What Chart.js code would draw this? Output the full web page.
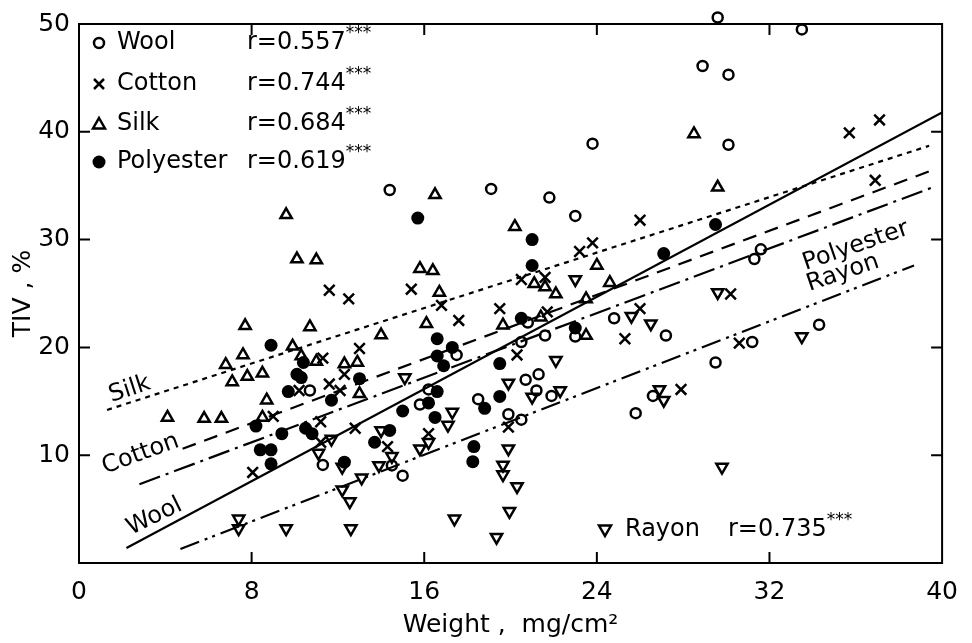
<!DOCTYPE html>
<html>
<head>
<meta charset="utf-8">
<script src="https://cdn.jsdelivr.net/npm/chart.js@4.4.1/dist/chart.umd.min.js"></script>
<style>
  html, body { margin: 0; padding: 0; background: #fff; }
  #wrap { width: 972px; height: 643px; }
</style>
</head>
<body>
<div id="wrap"><canvas id="c" width="972" height="643"></canvas></div>
<script>
// axis ticks
const xTicks = [0, 8, 16, 24, 32, 40];
const yTicks = [0, 10, 20, 30, 40, 50];

// fibres and their correlation coefficients
const fibres = ["Wool", "Cotton", "Silk", "Polyester", "Rayon"];
const rValues = ["0.557", "0.744", "0.684", "0.619", "0.735"];

// measured points [weight, TIV]
const wool = [
  [14.4, 34.6], [10.7, 16.0], [11.3, 9.1], [14.5, 9.05],
  [19.1, 34.7], [21.8, 33.9], [23.0, 32.2], [17.5, 19.3], [20.8, 22.3], [20.5, 20.5],
  [21.6, 21.1], [23.0, 21.0], [24.8, 22.7], [27.2, 21.1], [31.6, 29.1], [31.3, 28.2],
  [31.2, 20.5], [29.5, 18.6], [16.2, 16.1], [15.8, 14.7], [20.7, 17.0], [21.3, 17.5],
  [21.2, 16.0], [21.9, 15.5], [18.5, 15.2], [19.9, 13.8], [20.5, 13.3], [25.8, 13.9],
  [26.6, 15.5], [15.0, 8.1],
  [29.6, 50.6], [33.5, 49.5], [28.9, 46.1], [30.1, 45.3], [23.8, 38.9], [30.1, 38.8], [34.3, 22.1]
];
const cotton = [
  [11.6, 25.3], [12.5, 24.5], [11.3, 19.0], [13.0, 19.9], [12.3, 17.5], [11.6, 16.6],
  [12.1, 16.0], [10.2, 16.0], [9.0, 13.6], [11.2, 13.1], [11.2, 11.2], [12.8, 12.5],
  [8.05, 8.4], [14.3, 10.8],
  [15.4, 25.4], [16.8, 23.9], [17.6, 22.5], [19.5, 23.6], [20.5, 26.3], [21.6, 26.5],
  [21.7, 23.3], [23.2, 28.9], [23.8, 29.7], [26.0, 31.8], [26.0, 23.6], [25.3, 20.8],
  [20.3, 19.3], [30.2, 24.95], [30.6, 20.4], [27.9, 16.1], [16.2, 12.0], [19.9, 12.6],
  [35.7, 39.9], [37.1, 41.1], [36.9, 35.5]
];
const silk = [
  [9.6, 32.3], [10.1, 28.2], [11.0, 28.1], [14.0, 21.15], [7.7, 22.0], [10.7, 21.9],
  [9.9, 20.1], [7.6, 19.3], [10.3, 19.2], [11.0, 18.7], [6.8, 18.4], [12.3, 18.45],
  [12.9, 18.6], [7.8, 17.3], [8.5, 17.6], [7.1, 16.8], [8.7, 15.1], [13.0, 15.7],
  [8.5, 13.5], [4.1, 13.5], [5.8, 13.4], [6.6, 13.4],
  [16.5, 34.15], [20.2, 31.2], [29.6, 34.85], [15.8, 27.3], [16.4, 27.1], [16.7, 25.1],
  [16.1, 22.2], [19.65, 22.06], [24.0, 27.6], [24.6, 26.0], [21.1, 25.9], [21.6, 25.6],
  [22.1, 24.95], [23.5, 24.5], [21.4, 22.8], [23.5, 21.1],
  [28.5, 39.8]
];
const polyester = [
  [8.9, 20.2], [10.4, 18.6], [10.1, 17.5], [10.3, 17.2], [9.7, 15.9], [11.7, 15.1],
  [13.0, 17.1], [8.2, 12.7], [9.4, 12.0], [10.5, 12.5], [10.8, 12.0], [8.4, 10.5],
  [8.9, 10.5], [8.9, 9.2], [12.3, 9.35], [13.7, 11.2], [14.4, 12.3],
  [15.7, 32.0], [21.0, 30.0], [21.0, 27.6], [29.5, 31.4], [27.1, 28.7], [16.6, 20.8],
  [17.3, 20.0], [16.6, 19.2], [16.9, 18.3], [20.5, 22.7], [23.0, 21.8], [19.5, 18.5],
  [16.6, 15.9], [16.2, 14.85], [16.5, 13.5], [15.0, 14.1], [19.5, 15.45], [18.8, 14.35],
  [18.3, 10.8], [18.25, 9.4]
];
const rayon = [
  [11.7, 11.5], [11.1, 10.2], [12.2, 8.9], [14.0, 12.3], [13.9, 9.05], [14.5, 9.9],
  [13.1, 7.9], [12.2, 6.8], [12.55, 5.7], [7.4, 4.1], [7.4, 3.2], [9.6, 3.2], [12.6, 3.2],
  [15.1, 17.2], [22.1, 18.8], [23.0, 26.3], [25.6, 22.9], [26.5, 22.2], [29.6, 25.1],
  [33.5, 21.0], [19.9, 16.7], [21.0, 15.4], [22.3, 16.0], [17.3, 14.0], [17.1, 12.8],
  [15.8, 10.6], [16.2, 11.2], [19.9, 10.6], [19.65, 9.1], [19.65, 8.2], [20.3, 7.1],
  [19.95, 4.8], [17.4, 4.1], [19.35, 2.4], [26.9, 16.1], [27.1, 15.1], [29.8, 8.9]
];

// regression lines, end points [weight, TIV]
const woolFit = [[2.2, 1.4], [40, 41.8]];
const cottonFit = [[4.8, 10.6], [39.5, 36.4]];
const silkFit = [[1.3, 14.2], [39.4, 38.7]];
const polyesterFit = [[2.8, 7.3], [39.5, 34.8]];
const rayonFit = [[4.7, 1.3], [38.7, 27.6]];

// where the line names sit (weight, TIV, angle)
const lineNamePlaces = [
  ["Silk", 2.35, 16.1, -18],
  ["Cotton", 2.85, 10.1, -20],
  ["Wool", 3.5, 4.3, -26],
  ["Polyester", 36.0, 29.4, -19],
  ["Rayon", 35.4, 26.9, -19]
];

const toXY = arr => arr.map(p => ({ x: p[0], y: p[1] }));
const FONT = "DejaVu Sans";

function marker(ctx, kind, x, y) {
  ctx.save();
  ctx.lineWidth = 2.5;
  ctx.strokeStyle = "#000";
  ctx.fillStyle = "#000";
  ctx.beginPath();
  if (kind === "circle") {
    ctx.arc(x, y, 5, 0, Math.PI * 2);
    ctx.stroke();
  } else if (kind === "dot") {
    ctx.arc(x, y, 6.5, 0, Math.PI * 2);
    ctx.fill();
  } else if (kind === "cross") {
    ctx.moveTo(x - 5, y - 5); ctx.lineTo(x + 5, y + 5);
    ctx.moveTo(x + 5, y - 5); ctx.lineTo(x - 5, y + 5);
    ctx.stroke();
  } else if (kind === "up") {
    ctx.moveTo(x, y - 6); ctx.lineTo(x + 6, y + 4.5); ctx.lineTo(x - 6, y + 4.5); ctx.closePath();
    ctx.stroke();
  } else if (kind === "down") {
    ctx.moveTo(x, y + 6); ctx.lineTo(x + 6, y - 4.5); ctx.lineTo(x - 6, y - 4.5); ctx.closePath();
    ctx.stroke();
  }
  ctx.restore();
}

function legendRow(ctx, kind, name, r, sx, nx, rx, y) {
  marker(ctx, kind, sx, y);
  ctx.font = "24px " + FONT;
  ctx.textAlign = "left";
  ctx.textBaseline = "middle";
  ctx.fillStyle = "#000";
  ctx.fillText(name, nx, y);
  const txt = "r=" + r;
  ctx.fillText(txt, rx, y);
  const w = ctx.measureText(txt).width;
  ctx.font = "17px " + FONT;
  ctx.fillText("***", rx + w, y - 9);
}

const decor = {
  id: "decor",
  afterDraw(chart) {
    const ctx = chart.ctx;
    const a = chart.chartArea;
    const xs = chart.scales.x, ys = chart.scales.y;
    ctx.save();
    ctx.strokeStyle = "#000";
    ctx.lineWidth = 2;
    ctx.strokeRect(a.left, a.top, a.right - a.left, a.bottom - a.top);
    // inward tick marks on all four sides
    ctx.beginPath();
    xTicks.slice(1, -1).forEach(v => {
      const px = xs.getPixelForValue(v);
      ctx.moveTo(px, a.bottom); ctx.lineTo(px, a.bottom - 11);
      ctx.moveTo(px, a.top); ctx.lineTo(px, a.top + 11);
    });
    yTicks.slice(1, -1).forEach(v => {
      const py = ys.getPixelForValue(v);
      ctx.moveTo(a.left, py); ctx.lineTo(a.left + 11, py);
      ctx.moveTo(a.right, py); ctx.lineTo(a.right - 11, py);
    });
    ctx.stroke();

    // names along the regression lines
    ctx.font = "24px " + FONT;
    ctx.fillStyle = "#000";
    ctx.textAlign = "center";
    ctx.textBaseline = "middle";
    lineNamePlaces.forEach(([t, wx, wy, ang]) => {
      ctx.save();
      ctx.translate(xs.getPixelForValue(wx), ys.getPixelForValue(wy));
      ctx.rotate(ang * Math.PI / 180);
      ctx.fillText(t, 0, 0);
      ctx.restore();
    });

    // key
    const kinds = ["circle", "cross", "up", "dot"];
    const rowsY = [43, 84, 124, 162];
    for (let i = 0; i < 4; i++) {
      legendRow(ctx, kinds[i], fibres[i], rValues[i], 99, 117, 247, rowsY[i]);
    }
    legendRow(ctx, "down", fibres[4], rValues[4], 605, 625, 728, 530);
    ctx.restore();
  }
};

const fitStyle = (pts, dash) => ({
  type: "line",
  data: toXY(pts),
  borderColor: "#000",
  borderWidth: 2.2,
  borderDash: dash,
  pointRadius: 0,
  fill: false,
  tension: 0
});

new Chart(document.getElementById("c"), {
  type: "scatter",
  data: {
    datasets: [
      { label: fibres[0], data: toXY(wool), pointStyle: "circle", pointRadius: 5,
        borderColor: "#000", backgroundColor: "rgba(0,0,0,0)", borderWidth: 2.5, clip: false },
      { label: fibres[1], data: toXY(cotton), pointStyle: "crossRot", pointRadius: 7.5,
        borderColor: "#000", borderWidth: 2.5 },
      { label: fibres[2], data: toXY(silk), pointStyle: "triangle", pointRadius: 6.5,
        borderColor: "#000", backgroundColor: "rgba(0,0,0,0)", borderWidth: 2.5 },
      { label: fibres[3], data: toXY(polyester), pointStyle: "circle", pointRadius: 6.5,
        borderColor: "#000", backgroundColor: "#000", borderWidth: 0 },
      { label: fibres[4], data: toXY(rayon), pointStyle: "triangle", rotation: 180, pointRadius: 6.5,
        borderColor: "#000", backgroundColor: "rgba(0,0,0,0)", borderWidth: 2.5 },
      fitStyle(woolFit, []),
      fitStyle(cottonFit, [14, 9]),
      fitStyle(silkFit, [5, 5]),
      fitStyle(polyesterFit, [22, 6, 3, 6]),
      fitStyle(rayonFit, [20, 6, 3, 5, 3, 6])
    ]
  },
  options: {
    responsive: false,
    animation: false,
    devicePixelRatio: 1,
    layout: { padding: { left: 4, right: 20, top: 16, bottom: 0 } },
    plugins: { legend: { display: false }, tooltip: { enabled: false } },
    scales: {
      x: {
        type: "linear", min: 0, max: 40,
        afterBuildTicks: s => { s.ticks = xTicks.map(v => ({ value: v })); },
        afterFit: s => { s.height = 80; },
        grid: { display: false, drawTicks: false },
        border: { display: false },
        ticks: { color: "#000", padding: 14, font: { family: FONT, size: 25 } },
        title: { display: true, text: "Weight ,  mg/cm²", color: "#000",
          font: { family: FONT, size: 25 }, padding: { top: 0, bottom: 3 } }
      },
      y: {
        type: "linear", min: 0, max: 50,
        afterBuildTicks: s => { s.ticks = yTicks.map(v => ({ value: v })); },
        afterFit: s => { s.width = 75; },
        grid: { display: false, drawTicks: false },
        border: { display: false },
        ticks: { color: "#000", padding: 9, font: { family: FONT, size: 25 },
          callback: v => (v === 0 ? "" : v) },
        title: { display: true, text: "TIV , %", color: "#000",
          font: { family: FONT, size: 25 }, padding: { top: 4, bottom: 0 } }
      }
    }
  },
  plugins: [decor]
});
</script>
</body>
</html>
